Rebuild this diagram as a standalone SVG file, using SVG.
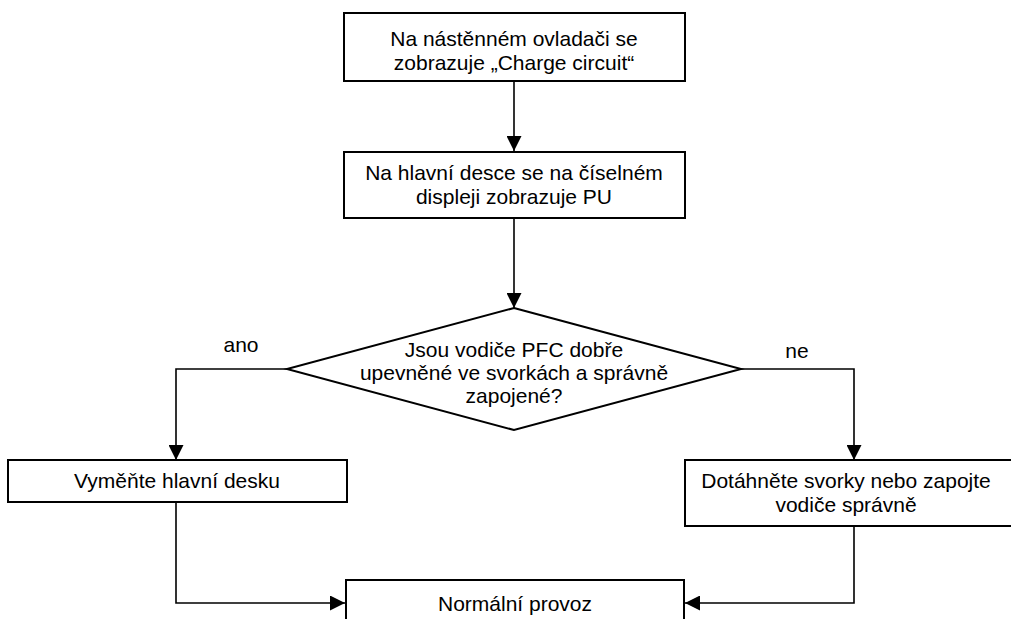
<svg xmlns="http://www.w3.org/2000/svg" width="1011" height="619" viewBox="0 0 1011 619">
<defs>
<marker id="arr" markerWidth="15" markerHeight="15" refX="15" refY="7.5" orient="auto" markerUnits="userSpaceOnUse">
<path d="M0,0 L15,7.5 L0,15 Z" fill="#000"/>
</marker>
<style>
.box{fill:#fff;stroke:#000;stroke-width:2}
.t{font-family:"Liberation Sans",Arial,sans-serif;font-size:21px;fill:#000;text-anchor:middle}
.c{fill:none;stroke:#000;stroke-width:1.6;marker-end:url(#arr)}
</style>
</defs>
<rect width="1011" height="619" fill="#fff"/>
<g id="connectors">
<path class="c" d="M514,81 V151"/>
<path class="c" d="M514,218 V308"/>
<path class="c" d="M287,369 H176 V460"/>
<path class="c" d="M741,369 H854 V460"/>
<path class="c" d="M176,502 V603 H345"/>
<path class="c" d="M854,526 V603 H685"/>
</g>
<g id="n1">
<rect class="box" x="344" y="13" width="341" height="68"/>
<text class="t" x="514" y="46">Na nástěnném ovladači se</text>
<text class="t" x="514" y="70">zobrazuje „Charge circuit“</text>
</g>
<g id="n2">
<rect class="box" x="344" y="152" width="341" height="66"/>
<text class="t" x="514" y="180">Na hlavní desce se na číselném</text>
<text class="t" x="514" y="204">displeji zobrazuje PU</text>
</g>
<g id="n3">
<polygon class="box" points="514,308 741,369 514,430 287,369"/>
<text class="t" x="514" y="357">Jsou vodiče PFC dobře</text>
<text class="t" x="514" y="380">upevněné ve svorkách a správně</text>
<text class="t" x="514" y="403">zapojené?</text>
</g>
<g id="lbl-ano"><text class="t" x="241" y="352">ano</text></g>
<g id="lbl-ne"><text class="t" x="797" y="358">ne</text></g>
<g id="n4">
<rect class="box" x="8" y="460" width="339" height="42"/>
<text class="t" x="177" y="488">Vyměňte hlavní desku</text>
</g>
<g id="n5">
<rect class="box" x="685" y="460" width="332" height="66"/>
<text class="t" x="846" y="488">Dotáhněte svorky nebo zapojte</text>
<text class="t" x="846" y="512">vodiče správně</text>
</g>
<g id="n6">
<rect class="box" x="346" y="580" width="338" height="60"/>
<text class="t" x="515" y="611">Normální provoz</text>
</g>
</svg>
